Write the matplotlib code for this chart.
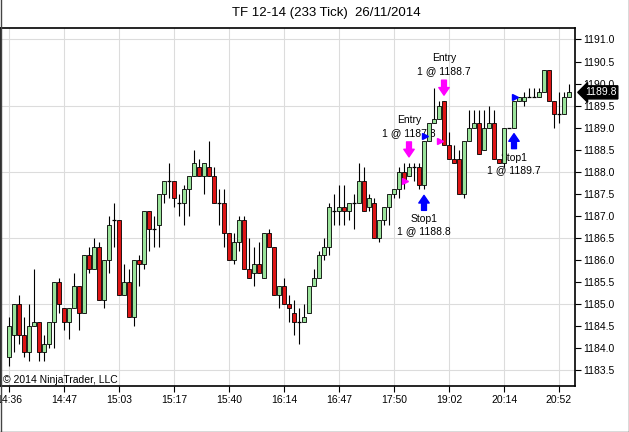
import numpy as np
import matplotlib.pyplot as plt
from matplotlib.patches import Rectangle
from matplotlib.lines import Line2D
from matplotlib import transforms

plt.rcParams['font.family'] = ['Liberation Sans', 'DejaVu Sans']

# bar data (233 tick bars)
opens = [1183.8, 1184.3, 1185.0, 1184.3, 1183.9, 1184.5, 1184.6, 1183.9, 1184.1, 1184.6,
         1185.5, 1184.9, 1184.6, 1184.9, 1185.4, 1184.8, 1186.1, 1185.8, 1186.3, 1185.1,
         1186.0, 1186.9, 1186.9, 1185.2, 1185.5, 1184.7, 1186.0, 1185.9, 1187.1, 1186.7,
         1186.8, 1187.5, 1187.8, 1187.8, 1187.3, 1187.3, 1187.6, 1187.9, 1188.1, 1187.9,
         1188.1, 1187.9, 1187.3, 1187.3, 1186.6, 1186.0, 1186.4, 1186.9, 1185.8, 1185.7,
         1185.9, 1185.6, 1186.6, 1186.3, 1185.2, 1185.4, 1185.0, 1184.8, 1184.6, 1184.6,
         1184.8, 1185.4, 1185.6, 1186.1, 1186.3, 1187.1, 1187.1, 1187.2, 1187.1, 1187.3,
         1187.3, 1187.8, 1187.2, 1187.3, 1186.5, 1186.9, 1187.2, 1187.5, 1187.6, 1188.0,
         1187.9, 1188.1, 1188.1, 1187.7, 1188.7, 1189.1, 1189.2, 1189.6, 1188.6, 1188.3,
         1188.3, 1187.5, 1188.7, 1189.0, 1189.1, 1188.5, 1189.0, 1189.1, 1188.3, 1188.2,
         1189.0, 1189.0, 1189.6, 1189.6, 1189.7, 1189.7, 1189.7, 1189.8, 1190.3, 1189.6,
         1189.3, 1189.3, 1189.7]
highs = [1184.7, 1185.0, 1185.2, 1184.7, 1185.0, 1185.8, 1184.6, 1184.3, 1184.6, 1185.5,
         1185.6, 1184.9, 1184.9, 1185.7, 1185.4, 1186.1, 1186.3, 1186.5, 1186.4, 1186.0,
         1187.0, 1187.3, 1186.9, 1185.9, 1185.8, 1186.0, 1186.1, 1187.1, 1187.1, 1187.0,
         1187.5, 1187.8, 1188.2, 1187.8, 1187.5, 1187.7, 1187.9, 1188.5, 1188.3, 1188.2,
         1188.7, 1188.1, 1187.6, 1187.6, 1186.6, 1186.6, 1187.0, 1187.0, 1186.5, 1186.3,
         1186.4, 1186.6, 1186.7, 1186.3, 1185.4, 1185.6, 1185.2, 1185.1, 1184.9, 1185.0,
         1185.4, 1185.8, 1186.2, 1186.5, 1187.3, 1187.5, 1187.7, 1187.7, 1187.3, 1187.5,
         1188.2, 1188.1, 1187.5, 1187.4, 1186.9, 1187.2, 1187.5, 1187.6, 1188.1, 1188.2,
         1188.2, 1188.2, 1188.2, 1188.7, 1189.1, 1189.9, 1189.6, 1189.6, 1188.9, 1188.6,
         1188.5, 1188.7, 1189.4, 1189.4, 1189.4, 1189.4, 1189.5, 1189.4, 1188.3, 1189.0,
         1189.0, 1189.6, 1189.7, 1189.8, 1189.9, 1189.9, 1189.9, 1190.3, 1190.3, 1189.6,
         1189.8, 1189.8, 1190.0]
lows = [1183.6, 1183.9, 1184.1, 1183.8, 1183.7, 1184.5, 1183.7, 1183.7, 1184.0, 1184.0,
        1184.8, 1184.4, 1184.2, 1184.9, 1184.4, 1184.8, 1185.7, 1185.8, 1185.1, 1184.9,
        1185.7, 1186.3, 1185.2, 1185.2, 1184.7, 1184.5, 1185.4, 1185.8, 1186.2, 1186.3,
        1186.3, 1187.3, 1187.4, 1187.2, 1187.0, 1186.8, 1187.0, 1187.9, 1187.9, 1187.5,
        1187.9, 1187.3, 1186.8, 1186.3, 1186.0, 1185.9, 1186.2, 1185.8, 1185.6, 1185.4,
        1185.7, 1185.6, 1186.3, 1185.2, 1184.9, 1185.0, 1184.6, 1184.3, 1184.1, 1184.6,
        1184.8, 1185.4, 1185.6, 1186.0, 1186.1, 1186.8, 1186.8, 1186.8, 1186.9, 1186.7,
        1187.3, 1187.1, 1187.1, 1186.5, 1186.4, 1186.8, 1186.8, 1187.4, 1187.4, 1187.6,
        1187.9, 1187.8, 1187.6, 1187.6, 1188.7, 1189.1, 1189.2, 1188.6, 1188.3, 1188.2,
        1187.5, 1187.4, 1188.7, 1189.0, 1188.4, 1188.5, 1189.0, 1188.3, 1188.2, 1188.1,
        1189.0, 1189.0, 1189.6, 1189.5, 1189.7, 1189.7, 1189.7, 1189.8, 1189.6, 1189.0,
        1189.1, 1189.3, 1189.7]
closes = [1184.5, 1185.0, 1184.3, 1183.9, 1184.5, 1184.6, 1183.9, 1184.1, 1184.6, 1185.5,
          1185.0, 1184.6, 1184.9, 1185.4, 1184.8, 1186.1, 1185.8, 1186.3, 1185.1, 1186.0,
          1186.8, 1186.9, 1185.2, 1185.5, 1184.7, 1186.0, 1185.9, 1187.1, 1186.7, 1186.7,
          1187.5, 1187.8, 1187.8, 1187.4, 1187.3, 1187.6, 1187.9, 1188.2, 1187.9, 1188.2,
          1187.9, 1187.3, 1187.3, 1186.6, 1186.0, 1186.4, 1186.9, 1185.8, 1185.6, 1185.9,
          1185.7, 1186.6, 1186.3, 1185.2, 1185.4, 1185.0, 1184.9, 1184.6, 1184.6, 1184.7,
          1185.4, 1185.6, 1186.1, 1186.3, 1187.2, 1187.1, 1187.2, 1187.1, 1187.3, 1187.3,
          1187.8, 1187.1, 1187.4, 1186.5, 1186.9, 1187.2, 1187.5, 1187.6, 1188.0, 1187.8,
          1188.1, 1188.1, 1187.7, 1188.7, 1189.1, 1189.2, 1189.5, 1188.6, 1188.3, 1188.2,
          1187.5, 1188.7, 1189.0, 1189.1, 1188.4, 1189.0, 1189.1, 1188.3, 1188.2, 1189.0,
          1189.0, 1189.6, 1189.7, 1189.7, 1189.7, 1189.7, 1189.8, 1190.3, 1189.6, 1189.3,
          1189.3, 1189.7, 1189.8]

time_labels = ['14:36', '14:47', '15:03', '15:17', '15:40', '16:14',
               '16:47', '17:50', '19:02', '20:14', '20:52']
time_label_bars = [0, 11, 22, 33, 44, 55, 66, 77, 88, 99, 110]

price_ticks = [1183.5, 1184.0, 1184.5, 1185.0, 1185.5, 1186.0, 1186.5, 1187.0,
               1187.5, 1188.0, 1188.5, 1189.0, 1189.5, 1190.0, 1190.5, 1191.0]
grid_levels = [1183.5, 1185.0, 1186.5, 1188.0, 1189.5, 1191.0]

# trade markers
entry_bars = [80, 87]
entry_labels = ['1 @ 1187.8', '1 @ 1188.7']
entry_fill_bars = [80, 87]
entry_fill_prices = [1187.8, 1188.7]
stop_bars = [83, 101]
stop_labels = ['1 @ 1188.8', '1 @ 1189.7']
stop_fill_bars = [84, 102]
stop_fill_prices = [1188.8, 1189.7]
last_price = 1189.8

UP = '#9ae39a'
DOWN = '#de1515'
GRID = '#dcdcdc'
PX = 0.72  # points per pixel at 100 dpi

fig = plt.figure(figsize=(6.29, 4.32), dpi=100)
ax = fig.add_axes([1/629, 1 - 386/432, 574/629, 358/432])

o = np.array(opens); h = np.array(highs); l = np.array(lows); c = np.array(closes)
idx = np.arange(len(o))

ax.vlines(idx, l, h, color='black', lw=0.8, zorder=3)
bw = 0.8
for i in idx:
    if c[i] == o[i]:
        ax.hlines(o[i], i - bw/2, i + bw/2, color='black', lw=0.9, zorder=4)
    else:
        lo = min(o[i], c[i])
        ax.add_patch(Rectangle((i - bw/2, lo), bw, abs(c[i] - o[i]),
                               facecolor=UP if c[i] > o[i] else DOWN,
                               edgecolor='black', lw=0.6, zorder=4))

ax.set_xlim(-1.6, 113.2)
ax.set_ylim(1183.14, 1191.26)

for g in grid_levels:
    ax.axhline(g, color=GRID, lw=0.8, zorder=0)
ax.set_xticks(time_label_bars)
ax.set_xticklabels(time_labels)
ax.grid(axis='x', color=GRID, lw=0.8, zorder=0)

ax.yaxis.tick_right()
ax.set_yticks(price_ticks)
ax.set_yticklabels(['%.1f' % p for p in price_ticks])
ax.tick_params(axis='both', length=4.5, width=0.8, labelsize=7.5, colors='black')
ax.tick_params(axis='y', pad=1.5)
ax.tick_params(axis='x', pad=2)
for s in ax.spines.values():
    s.set_color('black')
    s.set_linewidth(1.2)

# entry arrows (magenta, pointing down onto the bar)
for b, lab in zip(entry_bars, entry_labels):
    ax.annotate('', xy=(b, h[b]), xytext=(0, 21 * PX), textcoords='offset points',
                arrowprops=dict(arrowstyle='simple,head_length=0.55,head_width=0.75,tail_width=0.35',
                                fc='#ff00ff', ec='#ff00ff', shrinkA=0, shrinkB=6 * PX,
                                mutation_scale=10), zorder=6)
    ax.annotate(lab, xy=(b, h[b]), xytext=(0, 30 * PX), textcoords='offset points',
                ha='center', va='center', fontsize=7.5)
    ax.annotate('Entry', xy=(b, h[b]), xytext=(0, 43 * PX), textcoords='offset points',
                ha='center', va='center', fontsize=7.5)

# stop arrows (blue, pointing up at the bar)
for b, lab in zip(stop_bars, stop_labels):
    ax.annotate('', xy=(b, l[b]), xytext=(0, -21 * PX), textcoords='offset points',
                arrowprops=dict(arrowstyle='simple,head_length=0.55,head_width=0.75,tail_width=0.35',
                                fc='#0000ff', ec='#0000ff', shrinkA=0, shrinkB=6 * PX,
                                mutation_scale=10), zorder=6)
    ax.annotate('Stop1', xy=(b, l[b]), xytext=(0, -30 * PX), textcoords='offset points',
                ha='center', va='center', fontsize=7.5)
    ax.annotate(lab, xy=(b, l[b]), xytext=(0, -42 * PX), textcoords='offset points',
                ha='center', va='center', fontsize=7.5)

# fill markers
ax.plot(np.array(entry_fill_bars) - 0.9, entry_fill_prices, ls='none', marker='>',
        ms=4.5, color='#ff00ff', zorder=7)
ax.plot(np.array(stop_fill_bars) - 0.9, stop_fill_prices, ls='none', marker='>',
        ms=4.5, color='#0000ff', zorder=7)

# last price tag on the axis
tr = transforms.blended_transform_factory(ax.transAxes, ax.transData)
ax.text(1.017, last_price, '%.1f' % last_price, transform=tr, ha='left', va='center',
        fontsize=7.5, color='white', zorder=10, clip_on=False,
        bbox=dict(boxstyle='larrow,pad=0.15', fc='black', ec='black'))

fig.text(326/629, 1 - 13/432, 'TF 12-14 (233 Tick)  26/11/2014', ha='center', va='center',
         fontsize=9.5)
fig.text(3/629, 1 - 380/432, '\u00a9 2014 NinjaTrader, LLC', ha='left', va='center',
         fontsize=7.5)

# outer frame of the screenshot
for xs, ys in [([0.5/629, 0.5/629], [0, 1]), ([628.5/629, 628.5/629], [0, 1]),
               ([0, 1], [0.5/432, 0.5/432])]:
    fig.add_artist(Line2D(xs, ys, color='#444444', lw=1.0))

fig.savefig('out.png', dpi=100)
